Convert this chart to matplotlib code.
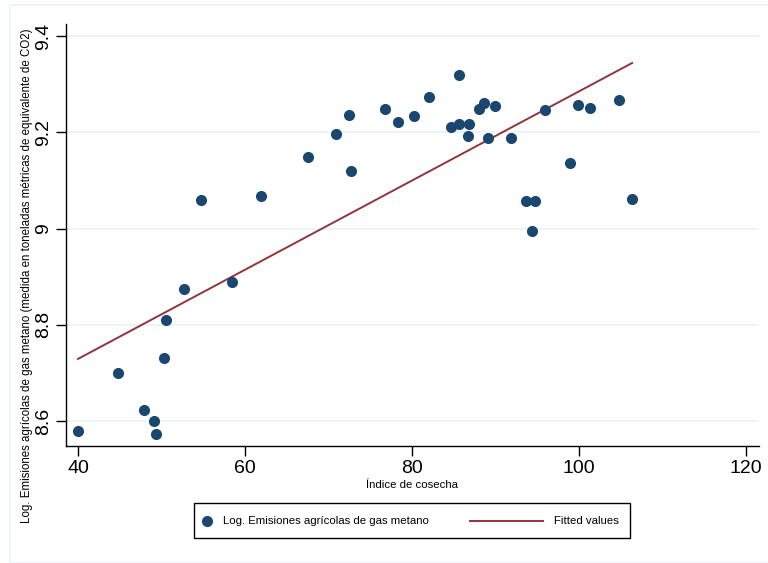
import matplotlib
matplotlib.use('Agg')
import matplotlib.pyplot as plt
from matplotlib.lines import Line2D
from matplotlib.patches import Rectangle

plt.rcParams['font.family'] = ['Liberation Sans', 'DejaVu Sans']

# Data
indice_cosecha = [40.0, 44.8, 47.9, 49.1, 49.3, 50.3, 50.5, 52.7, 54.7, 58.4,
                  61.9, 67.6, 70.9, 72.5, 72.7, 76.8, 78.4, 80.2, 82.1, 85.7,
                  84.7, 85.6, 86.8, 86.7, 88.1, 88.6, 90.0, 89.1, 91.9, 96.0,
                  93.7, 94.8, 94.4, 98.9, 99.9, 101.4, 104.8, 106.4]
log_metano = [8.579, 8.700, 8.623, 8.600, 8.573, 8.731, 8.810, 8.875, 9.060, 8.888,
              9.067, 9.149, 9.196, 9.235, 9.119, 9.248, 9.222, 9.233, 9.274, 9.319,
              9.210, 9.218, 9.217, 9.192, 9.249, 9.260, 9.255, 9.189, 9.188, 9.247,
              9.057, 9.057, 8.994, 9.137, 9.256, 9.251, 9.268, 9.062]

# Fitted values (linear fit endpoints)
fit_x = [40.0, 106.4]
fit_y = [8.729, 9.344]

x_ticks = [40, 60, 80, 100, 120]
y_ticks = [8.6, 8.8, 9.0, 9.2, 9.4]
y_tick_labels = ['8.6', '8.8', '9', '9.2', '9.4']
legend_labels = ['Log. Emisiones agrícolas de gas metano', 'Fitted values']

navy = '#1a476f'
maroon = '#90353b'
grid_color = '#eaf2f3'

fig = plt.figure(figsize=(7.68, 5.63), dpi=100)
W, H = 768, 563


def fx(px):
    # pixel x -> figure fraction
    return px / W


def fy(py):
    # pixel y (from top) -> figure fraction
    return 1 - py / H


# light outer border of the graph region
fig.patches.append(Rectangle((fx(10), 0), 1, 1 - 5 / H, transform=fig.transFigure,
                             fill=False, edgecolor=grid_color, linewidth=1.2))

ax = fig.add_axes([fx(66), fy(446), (759 - 66) / W, (446 - 24) / H])
ax.set_xlim(38.56, 121.6)
ax.set_ylim(8.548, 9.425)

for yv in y_ticks:
    ax.axhline(yv, color=grid_color, linewidth=1.2, zorder=0)

ax.plot(fit_x, fit_y, color=maroon, linewidth=1.4, zorder=2)
ax.plot(indice_cosecha, log_metano, 'o', color=navy, markersize=8,
        markeredgewidth=0, zorder=3)

ax.spines['top'].set_visible(False)
ax.spines['right'].set_visible(False)
for s in ['left', 'bottom']:
    ax.spines[s].set_linewidth(1.0)
    ax.spines[s].set_color('black')

ax.set_xticks(x_ticks)
ax.set_xticklabels([str(t) for t in x_ticks], fontsize=14)
ax.set_yticks(y_ticks)
ax.set_yticklabels(y_tick_labels, fontsize=14, rotation=90, va='center')
ax.tick_params(axis='both', length=7, width=1.0, pad=3)

fig.text(fx(412), fy(485), 'Índice de cosecha', ha='center', va='center', fontsize=8.2)
fig.text(fx(27), fy(276),
         'Log. Emisiones agrícolas de gas metano (medida en toneladas métricas de equivalente de CO2)',
         ha='center', va='center', rotation=90, fontsize=8.3)

# Legend box drawn by hand (Stata-like layout)
fig.patches.append(Rectangle((fx(194), fy(538)), (630 - 194) / W, (538 - 503) / H,
                             transform=fig.transFigure, fill=False,
                             edgecolor='black', linewidth=1.0))
ly = fy(520.5)
fig.add_artist(Line2D([fx(207)], [ly], marker='o', linestyle='none', color=navy,
                      markersize=8, markeredgewidth=0, transform=fig.transFigure))
fig.text(fx(223), ly, legend_labels[0], ha='left', va='center', fontsize=8.2)
fig.add_artist(Line2D([fx(470), fx(543)], [ly, ly], color=maroon, linewidth=1.4,
                      transform=fig.transFigure))
fig.text(fx(554), ly, legend_labels[1], ha='left', va='center', fontsize=8.2)

fig.savefig('out.png', dpi=100)
